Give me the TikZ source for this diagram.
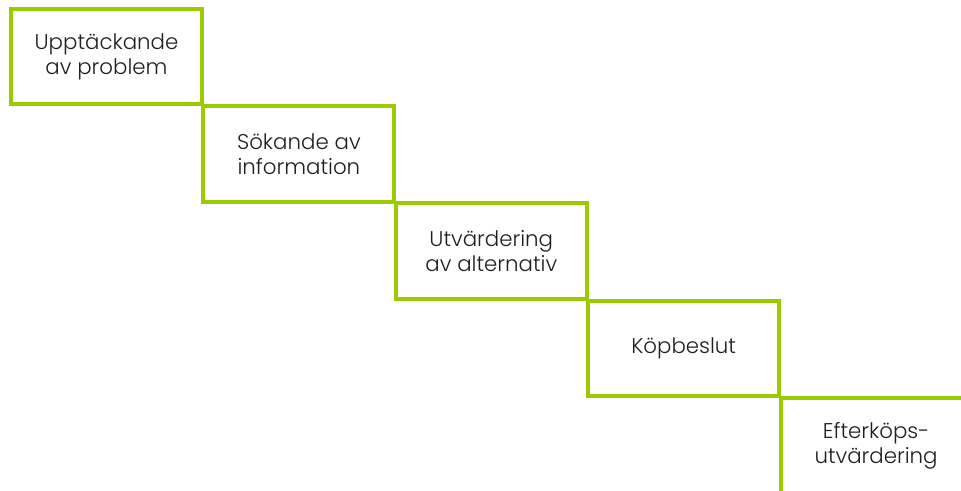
\documentclass[tikz,border=0pt]{standalone}
\usepackage{fontspec}
\setmainfont{Poppins}[UprightFont=* Light]
\usetikzlibrary{positioning}
\definecolor{stepgreen}{RGB}{153,204,0}

\begin{document}
\begin{tikzpicture}[x=0.75pt,y=-0.75pt,
	stage/.style={draw=stepgreen, line width=3pt, outer sep=0pt,
		minimum width=143.25pt, minimum height=71.6pt, align=center,
		text=black!88, font=\fontsize{16}{19}\selectfont},
	node distance=1.3pt and 1.05pt]
	\useasboundingbox (0,0) rectangle (961,490);
	\clip (0,0) rectangle (961,490);
	\node[stage, anchor=north west] (problem) at (11,9) {Upptäckande\\av problem};
	\node[stage, below right=of problem] (search) {Sökande av\\information};
	\node[stage, below right=of search] (evaluate) {Utvärdering\\av alternativ};
	\node[stage, below right=of evaluate] (decision) {Köpbeslut};
	\node[stage, below right=of decision] (after) {Efterköps-\\utvärdering};
\end{tikzpicture}
\end{document}
